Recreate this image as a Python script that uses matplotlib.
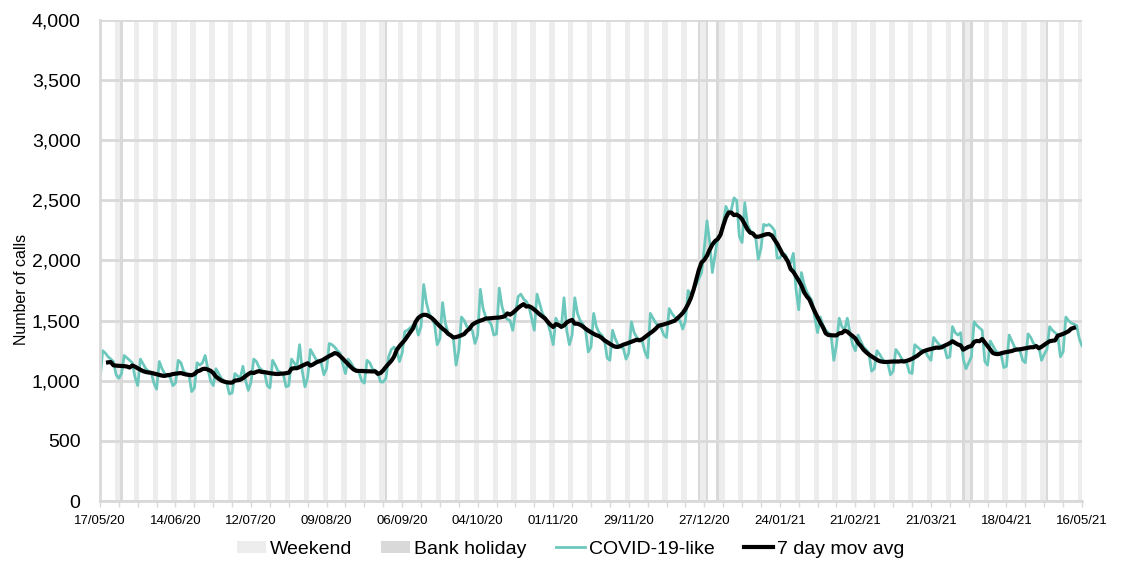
import numpy as np
import pandas as pd
import matplotlib
matplotlib.use("Agg")
import matplotlib.pyplot as plt
from matplotlib.patches import Patch
from matplotlib.lines import Line2D
from matplotlib.ticker import FuncFormatter, MultipleLocator

plt.rcParams["font.family"] = ["Liberation Sans", "DejaVu Sans"]

# ── Data: daily COVID-19-like calls, 17/05/20 .. 16/05/21 (one row per week, Sun..Sat)
start_date = "2020-05-17"
covid_calls = [
    1000, 1250, 1230, 1200, 1180, 1160, 1050,
    1020, 1060, 1210, 1190, 1170, 1150, 1030,
    960, 1180, 1140, 1100, 1080, 1070, 980,
    930, 1160, 1100, 1060, 1040, 1030, 960,
    980, 1170, 1150, 1080, 1060, 1050, 910,
    940, 1150, 1130, 1150, 1210, 1100, 1000,
    960, 1100, 1060, 1020, 1000, 980, 890,
    900, 1060, 1040, 1020, 1120, 1000, 920,
    990, 1180, 1160, 1110, 1090, 1070, 960,
    940, 1170, 1130, 1080, 1070, 1050, 950,
    960, 1180, 1150, 1110, 1300, 1080, 950,
    1030, 1260, 1220, 1180, 1160, 1150, 1050,
    1100, 1310, 1300, 1280, 1250, 1230, 1140,
    1060, 1180, 1150, 1110, 1090, 1070, 1000,
    980, 1170, 1150, 1100, 1080, 1070, 990,
    990, 1020, 1200, 1260, 1280, 1250, 1160,
    1230, 1410, 1420, 1440, 1460, 1480, 1380,
    1450, 1800, 1650, 1560, 1520, 1470, 1300,
    1350, 1650, 1480, 1400, 1380, 1350, 1130,
    1250, 1530, 1500, 1450, 1440, 1420, 1310,
    1380, 1760, 1600, 1530, 1500, 1470, 1380,
    1390, 1770, 1620, 1540, 1510, 1500, 1420,
    1560, 1700, 1720, 1680, 1660, 1620, 1520,
    1420, 1720, 1640, 1560, 1520, 1480, 1400,
    1300, 1520, 1470, 1440, 1690, 1420, 1300,
    1380, 1690, 1560, 1500, 1470, 1420, 1240,
    1280, 1560, 1450, 1400, 1380, 1340, 1190,
    1170, 1420, 1350, 1300, 1280, 1270, 1180,
    1230, 1490, 1400, 1360, 1340, 1330, 1240,
    1190, 1560, 1520, 1480, 1460, 1440, 1380,
    1360, 1600, 1560, 1530, 1510, 1500, 1430,
    1500, 1750, 1720, 1760, 1800, 1850, 1900,
    2100, 2330, 2150, 1900, 2050, 2200, 2200,
    2300, 2450, 2400, 2420, 2520, 2500, 2200,
    2150, 2480, 2300, 2250, 2230, 2200, 2010,
    2100, 2300, 2290, 2300, 2280, 2250, 2020,
    2020, 2060, 2050, 2000, 1980, 2060, 1760,
    1590, 1900, 1800, 1740, 1700, 1660, 1520,
    1400, 1530, 1460, 1420, 1400, 1380, 1170,
    1300, 1520, 1450, 1420, 1520, 1400, 1300,
    1250, 1380, 1330, 1280, 1260, 1230, 1080,
    1100, 1250, 1220, 1180, 1160, 1150, 1050,
    1080, 1260, 1230, 1190, 1160, 1150, 1070,
    1060, 1300, 1280, 1260, 1250, 1240, 1200,
    1170, 1360, 1330, 1300, 1290, 1280, 1190,
    1200, 1450, 1400, 1380, 1400, 1180, 1100,
    1150, 1200, 1490, 1460, 1440, 1420, 1160,
    1130, 1330, 1290, 1250, 1230, 1220, 1110,
    1120, 1380, 1330, 1280, 1260, 1250, 1170,
    1150, 1390, 1360, 1310, 1290, 1280, 1170,
    1220, 1260, 1450, 1420, 1400, 1380, 1200,
    1240, 1530, 1500, 1480, 1470, 1460, 1350,
    1290,
]
bank_holidays = ["2020-05-25", "2020-08-31", "2020-12-25", "2020-12-28",
                 "2021-01-01", "2021-04-02", "2021-04-05", "2021-05-03"]
y_max = 4000

dates = pd.date_range(start_date, periods=len(covid_calls), freq="D")
calls = pd.Series(covid_calls, index=dates)
mov_avg = calls.rolling(7, center=True).mean()
weekends = dates[dates.dayofweek >= 5]
holidays = pd.to_datetime(bank_holidays)

TEAL = "#6CC8BD"
GRID = "#D9D9D9"
WKND = "#EDEDED"

fig = plt.figure(figsize=(11.23, 5.62), dpi=100)
ax = fig.add_axes([0.089, 0.1085, 0.8745, 0.856])

ax.bar(weekends, y_max, width=1.0, color=WKND, zorder=0)
ax.bar(holidays, y_max, width=1.0, color=GRID, zorder=0)
ax.plot(dates, calls, color=TEAL, lw=2.0, zorder=2)
ax.plot(dates, mov_avg, color="black", lw=3.0, zorder=3)

ax.set_ylim(0, y_max)
ax.set_xlim(dates[0], dates[-1])
ax.yaxis.set_major_locator(MultipleLocator(500))
ax.yaxis.set_major_formatter(FuncFormatter(lambda v, p: f"{v:,.0f}"))
ax.grid(axis="y", color=GRID, lw=2.0)

ticks = dates[::28]
ax.set_xticks(ticks)
ax.set_xticklabels([d.strftime("%d/%m/%y") for d in ticks])
ax.set_xticks(dates[::7], minor=True)
ax.tick_params(axis="x", which="both", length=4, color=GRID, width=1, pad=6, labelsize=9.5)
ax.tick_params(axis="y", length=0, pad=14, labelsize=14)

for s in ["top", "right"]:
    ax.spines[s].set_visible(False)
for s in ["left", "bottom"]:
    ax.spines[s].set_color(GRID)
    ax.spines[s].set_linewidth(2.0)

ax.set_ylabel("Number of calls", fontsize=11.5)
ax.yaxis.set_label_coords(-0.072, 0.44)

handles = [Patch(fc=WKND), Patch(fc=GRID),
           Line2D([], [], color=TEAL, lw=2), Line2D([], [], color="black", lw=3)]
labels = ["Weekend", "Bank holiday", "COVID-19-like", "7 day mov avg"]
fig.legend(handles, labels, loc="center", bbox_to_anchor=(0.508, 0.023), ncol=4,
           frameon=False, handlelength=1.5, handleheight=0.6, handletextpad=0.2,
           columnspacing=1.5, fontsize=14)

fig.savefig("out.png", dpi=100)
